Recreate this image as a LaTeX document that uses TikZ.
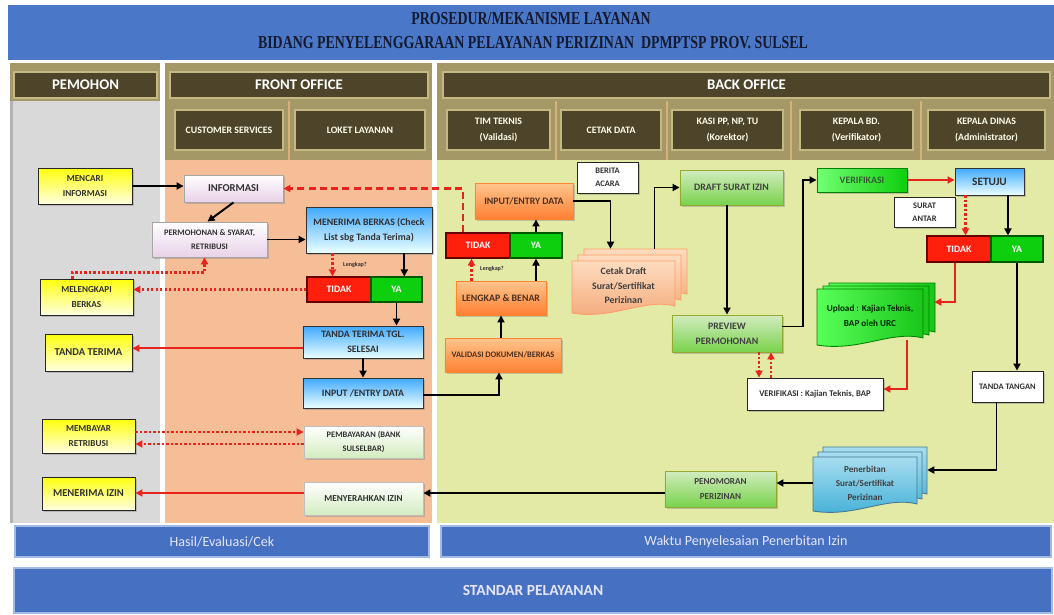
\documentclass[tikz,border=0pt]{standalone}
\usepackage{fontspec}
\setmainfont{Carlito}
\newfontfamily\titlefont{Liberation Serif}
\usetikzlibrary{arrows.meta,shadows,calc}

\definecolor{titleblue}{HTML}{4A77C7}
\definecolor{titletxt}{HTML}{141A30}
\definecolor{tanc}{HTML}{A49867}
\definecolor{tanlight}{HTML}{C4B983}
\definecolor{sepc}{HTML}{D6B27A}
\definecolor{darkbar}{HTML}{4D4429}
\definecolor{greycol}{HTML}{D9D9D9}
\definecolor{peachcol}{HTML}{F6BE97}
\definecolor{greencol}{HTML}{E3EAA5}
\definecolor{barblue}{HTML}{4670C1}
\definecolor{barframe}{HTML}{A3BAE4}
\definecolor{myred}{HTML}{E8231B}
\definecolor{txt}{HTML}{303030}
\definecolor{ortxt}{HTML}{4A3020}
\definecolor{docpeach1}{HTML}{FDDCC0}
\definecolor{docpeach2}{HTML}{F4A878}
\definecolor{docblue1}{HTML}{A8DDF0}
\definecolor{docblue2}{HTML}{3FAED6}

\newcommand\docsheet[5]{%
  \path[#5] ({#1},{#2}) -- ({#3},{#2}) -- ({#3},{#4-9})
    .. controls ({#3-0.3*(#3-#1)},{#4-17}) and ({#1+0.4*(#3-#1)},{#4+5}) .. ({#1},{#4-2}) -- cycle;}
\newcommand\multidoc[7]{%
  \docsheet{(#1+2*#5)}{(#2-2*#6)}{(#3+2*#5)}{(#4-2*#6)}{#7}
  \docsheet{(#1+#5)}{(#2-#6)}{(#3+#5)}{(#4-#6)}{#7}
  \docsheet{#1}{#2}{#3}{#4}{#7}}

\begin{document}
\begin{tikzpicture}[x=0.025cm,y=-0.025cm,
  sz/.style 2 args={minimum width=#1*0.7113pt,minimum height=#2*0.7113pt,inner sep=1pt},
  f6/.style={font=\bfseries\fontsize{6}{9.5}\selectfont},
  f62/.style={font=\bfseries\fontsize{6.2}{9.5}\selectfont},
  f65/.style={font=\bfseries\fontsize{6.5}{10.5}\selectfont},
  f7/.style={font=\bfseries\fontsize{7}{10.5}\selectfont},
  f75/.style={font=\bfseries\fontsize{7.5}{10.5}\selectfont},
  f8/.style={font=\bfseries\fontsize{8}{10}\selectfont},
  shadowed/.style={drop shadow={shadow xshift=1.6pt,shadow yshift=-1.6pt,opacity=0.4}},
  base/.style={align=center,text=txt,line width=0.6pt,shadowed},
  ybox/.style={base,draw=black!85,top color=yellow!95!white,bottom color=yellow!12},
  lavbox/.style={base,draw=black!35,top color=white,bottom color=violet!18},
  bluebox/.style={base,draw=black!80,top color=cyan!55!blue!75,bottom color=cyan!8},
  wgbox/.style={base,draw=black!25,top color=white,bottom color=green!40!olive!25},
  orbox/.style={base,text=ortxt,draw=orange!80!red!80,top color=orange!45,bottom color=orange!75!red!80!white},
  olbox/.style={base,draw=olive!70!green!80,top color=green!40!olive!25,bottom color=green!50!olive!70,text=black!75},
  vgbox/.style={base,draw=green!50!black,left color=green!55,right color=green!80!black!95,text=green!20!black!80},
  wbox/.style={base,draw=black!85,fill=white},
  redbox/.style={draw=red!40!black,line width=0.8pt,fill=red!85!orange!95,text=white,font=\bfseries\fontsize{7}{8}\selectfont},
  greenbox/.style={draw=green!35!black,line width=0.8pt,fill=green!80!black!95,text=white,font=\bfseries\fontsize{7}{8}\selectfont},
  tinylbl/.style={font=\bfseries\fontsize{4.3}{5}\selectfont,text=txt,inner sep=0pt},
  docnode/.style={align=center,inner sep=1pt},
  hdrbar/.style={fill=darkbar,draw=tanlight,line width=1.2pt,text=white,font=\bfseries\fontsize{10.5}{12}\selectfont,drop shadow={shadow xshift=1pt,shadow yshift=-1pt,opacity=0.35}},
  subhdr/.style={fill=darkbar,draw=tanlight,line width=1.5pt,text=white!92!yellow,align=center,font=\bfseries\fontsize{7}{11}\selectfont},
  bluebar/.style={fill=barblue,draw=barframe,line width=1.2pt,text=white!90!blue},
  blk/.style={draw=black,line width=1.4pt,-{Triangle[length=5pt,width=5pt]}},
  redsolid/.style={draw=myred,line width=1.6pt,-{Triangle[length=5pt,width=5pt]}},
  reddot/.style={draw=myred,line width=1.8pt,dash pattern=on 1.6pt off 1.6pt,-{Triangle[length=5pt,width=5pt]}},
  reddash/.style={draw=myred,line width=1.8pt,dash pattern=on 5pt off 3pt,-{Triangle[length=5pt,width=5pt]}}
]
\useasboundingbox (0,0) rectangle (1054,614);
\fill[white] (0,0) rectangle (1054,614);

% title band
\fill[titleblue] (8,5) rectangle (1054,60);
\node[font=\titlefont\bfseries\fontsize{13}{14}\selectfont,text=titletxt] (t1) at (531,19)
  {\scalebox{0.76}[1]{PROSEDUR/MEKANISME LAYANAN}};
\node[font=\titlefont\bfseries\fontsize{13}{14}\selectfont,text=titletxt] (t2) at (533,43)
  {\scalebox{0.76}[1]{BIDANG PENYELENGGARAAN PELAYANAN PERIZINAN\ \ DPMPTSP PROV. SULSEL}};

% column panels
\fill[tanc] (10,63) rectangle (160,101);
\fill[greycol] (10,101) rectangle (160,523);
\fill[black!30] (10,101) rectangle (13,523);
\fill[tanc] (165,63) rectangle (432,160);
\fill[peachcol] (165,160) rectangle (432,523);
\fill[tanc] (437,63) rectangle (1054,160);
\fill[greencol] (437,160) rectangle (1054,523);
\foreach \sx in {289,556,667,791,921} \draw[sepc,line width=1.2pt] (\sx,101) -- (\sx,160);

% header bars
\node[hdrbar,sz={143}{26}] (hpem) at (85.5,85) {PEMOHON};
\node[hdrbar,sz={258}{26}] (hfo) at (299,85) {FRONT OFFICE};
\node[hdrbar,sz={607}{26}] (hbo) at (746.5,85) {BACK OFFICE};
\node[subhdr,sz={108}{40}] (hcs) at (229,130) {CUSTOMER SERVICES};
\node[subhdr,sz={130}{40}] (hll) at (360,130) {LOKET LAYANAN};
\node[subhdr,sz={103}{40}] (htt) at (498.5,130) {TIM TEKNIS\\(Validasi)};
\node[subhdr,sz={100}{40}] (hcd) at (611,130) {CETAK DATA};
\node[subhdr,sz={111}{40}] (hks) at (727.5,130) {KASI PP, NP, TU\\(Korektor)};
\node[subhdr,sz={113}{40}] (hkb) at (856.5,130) {KEPALA BD.\\(Verifikator)};
\node[subhdr,sz={117}{40}] (hkd) at (986.5,130) {KEPALA DINAS\\(Administrator)};

% bottom bars
\node[bluebar,font=\fontsize{10}{12}\selectfont,sz={414}{31}] (hasil) at (222,541.5) {Hasil/Evaluasi/Cek};
\node[bluebar,font=\fontsize{10}{12}\selectfont,sz={610}{31}] (waktu) at (746,541.5) {Waktu Penyelesaian Penerbitan Izin};
\node[bluebar,font=\bfseries\fontsize{11}{12}\selectfont,sz={1038}{45}] (standar) at (533,590.5) {STANDAR PELAYANAN};

% PEMOHON
\node[ybox,f65,sz={94}{36}] (mencari) at (85,186) {MENCARI\\INFORMASI};
\node[ybox,f65,sz={93}{36}] (melengkapi) at (86.5,297) {MELENGKAPI\\BERKAS};
\node[ybox,f75,sz={87}{37}] (tandaterima) at (88.5,352.5) {TANDA TERIMA};
\node[ybox,f65,sz={93}{34}] (membayar) at (88.5,436) {MEMBAYAR\\RETRIBUSI};
\node[ybox,f75,sz={93}{33}] (menerimaizin) at (88.5,493.5) {MENERIMA IZIN};

% FRONT OFFICE
\node[lavbox,f75,sz={99}{27}] (informasi) at (233.5,188.5) {INFORMASI};
\node[lavbox,f6,sz={115}{35}] (permohonan) at (209.5,239.5) {PERMOHONAN \& SYARAT,\\RETRIBUSI};
\node[bluebox,f7,sz={126}{46}] (menerima) at (369,230) {MENERIMA BERKAS (Check\\List sbg Tanda Terima)};
\node[redbox,sz={64}{25}] (tidak1) at (339,289.5) {TIDAK\hspace{10pt}};
\node[greenbox,sz={51}{25}] (ya1) at (396.5,289.5) {YA\hspace{12pt}};
\node[tinylbl] (lk1) at (355,265) {Lengkap?};
\node[bluebox,f7,sz={120}{32}] (tandatgl) at (363,342) {TANDA TERIMA TGL.\\SELESAI};
\node[bluebox,f7,sz={120}{30}] (inputfo) at (363,393) {INPUT /ENTRY DATA};
\node[wgbox,f6,sz={119}{32}] (pembayaran) at (363.5,442) {PEMBAYARAN (BANK\\SULSELBAR)};
\node[wgbox,f65,sz={119}{33}] (menyerahkan) at (363.5,498.5) {MENYERAHKAN IZIN};

% BACK OFFICE
\node[orbox,f7,sz={98}{36}] (boinput) at (524,201) {INPUT/ENTRY DATA};
\node[wbox,f6,sz={61}{31}] (berita) at (607.5,177.5) {BERITA\\ACARA};
\node[redbox,sz={64}{25}] (tidak2) at (478,245.5) {TIDAK\hspace{10pt}};
\node[greenbox,sz={52}{25}] (ya2) at (536,245.5) {YA\hspace{12pt}};
\node[tinylbl] (lk2) at (492,269) {Lengkap?};
\node[orbox,f7,sz={90}{34}] (lengkap) at (501,298) {LENGKAP \& BENAR};
\node[orbox,f6,sz={116}{34}] (validasi) at (503,355) {VALIDASI DOKUMEN/BERKAS};

\multidoc{572}{261}{675}{315}{6}{6}{top color=docpeach1,bottom color=docpeach2,draw=orange!70!red!60,line width=0.6pt}
\node[docnode,font=\bfseries\fontsize{7}{10.3}\selectfont,text=black!75,sz={103}{50}] (cetak) at (623.5,286) {Cetak Draft\\Surat/Sertifikat\\Perizinan};

\node[olbox,f7,sz={103}{35}] (draft) at (731.5,187.5) {DRAFT SURAT IZIN};
\node[olbox,f7,sz={110}{37}] (preview) at (727,333.5) {PREVIEW\\PERMOHONAN};
\node[vgbox,f7,sz={90}{24}] (verif) at (862,180) {VERIFIKASI};
\node[bluebox,f8,sz={69}{27}] (setuju) at (989.5,181.5) {SETUJU};
\node[wbox,f6,sz={61}{30}] (suratantar) at (924.5,212) {SURAT\\ANTAR};
\node[redbox,sz={64}{26}] (tidak3) at (959,249) {TIDAK\hspace{10pt}};
\node[greenbox,sz={52}{26}] (ya3) at (1017,249) {YA\hspace{12pt}};

\multidoc{817}{289}{923}{347}{6}{3}{left color=green!65,right color=green!75!black!90,draw=green!50!black,line width=0.6pt}
\node[docnode,font=\bfseries\fontsize{6.5}{10.5}\selectfont,text=green!15!black,sz={106}{54}] (upload) at (870,316) {Upload : Kajian Teknis,\\BAP oleh URC};

\node[wbox,f62,sz={136}{32}] (verifkaj) at (815,394) {VERIFIKASI : Kajian Teknis, BAP};
\node[wbox,f6,sz={71}{31}] (tandatangan) at (1007.5,386.5) {TANDA TANGAN};

\multidoc{813}{457}{917}{513}{5}{5}{top color=docblue1,bottom color=docblue2,draw=cyan!50!black,line width=0.6pt}
\node[docnode,font=\bfseries\fontsize{6.5}{10}\selectfont,text=black!75,sz={104}{52}] (penerbitan) at (865,483) {Penerbitan\\Surat/Sertifikat\\Perizinan};
\node[olbox,f65,sz={111}{36}] (penomoran) at (720.5,489) {PENOMORAN\\PERIZINAN};

% ---------- connectors ----------
\draw[blk] (mencari.east) -- (mencari.east -| informasi.west);
\draw[blk] (informasi.south) -- ($(permohonan.north)+(-2,0)$);
\draw[blk] (permohonan.east) -- (permohonan.east -| menerima.west);
\coordinate (c4) at ($(ya1.north west)!0.65!(ya1.north east)$);
\draw[blk] (c4 |- menerima.south) -- (c4);
\coordinate (c5) at ($(tidak1.north west)!0.4!(tidak1.north east)$);
\draw[reddot] (c5 |- menerima.south) -- (c5);
\draw[reddot] (tidak1.west) -- (tidak1.west -| melengkapi.east);
\coordinate (c7) at ($(melengkapi.north west)!0.35!(melengkapi.north east)$);
\draw[reddot] (c7) -- ++(0,-6) -| ($(permohonan.south)+(-5,0)$);
\draw[blk] (ya1.south) -- (ya1.south |- tandatgl.north);
\coordinate (c9) at ($(tandatgl.north west)!0.69!(tandatgl.south west)$);
\draw[redsolid] (c9) -- (c9 -| tandaterima.east);
\draw[blk] (tandatgl.south) -- (inputfo.north);
\draw[blk] ($(inputfo.east)+(0,2)$) -| ($(validasi.south)+(-4,0)$);
\draw[blk] (lengkap.south |- validasi.north) -- (lengkap.south);
\draw[blk] (ya2.south |- lengkap.north) -- (ya2.south);
\coordinate (c14) at ($(tidak2.south west)!0.4!(tidak2.south east)$);
\draw[reddot] (c14 |- lengkap.north) -- (c14);
\draw[blk] (ya2.north) -- (ya2.north |- boinput.south);
\coordinate (c16) at ($(tidak2.north west)!0.27!(tidak2.north east)$);
\draw[reddash] (c16) |- (informasi.east);
\draw[blk] (boinput.east) -| ($(cetak.north)+(-13,-12)$);
\draw[blk] ($(cetak.north)+(31,-12)$) |- (draft.west);
\draw[blk] (preview.north |- draft.south) -- (preview.north);
\draw[blk] ($(preview.east)+(0,-7)$) -- ++(21,0) |- (verif.west);
\draw[redsolid] (verif.east) -- (verif.east -| setuju.west);
\coordinate (c22) at ($(tidak3.north west)!0.6!(tidak3.north east)$);
\draw[reddot] (c22 |- setuju.south) -- (c22);
\coordinate (c23) at ($(ya3.north west)!0.33!(ya3.north east)$);
\draw[blk] (c23 |- setuju.south) -- (c23);
\draw[redsolid] ($(tidak3.south)+(-4,0)$) |- ($(upload.east)+(11,-14)$);
\draw[redsolid] ($(upload.south)+(37,-3)$) |- ($(verifkaj.east)+(0,-5)$);
\coordinate (c26a) at ($(preview.south)+(32,0)$);
\draw[reddot] (c26a) -- (c26a |- verifkaj.north);
\coordinate (c26b) at ($(preview.south)+(44,0)$);
\draw[reddot] (c26b |- verifkaj.north) -- (c26b);
\draw[blk] (ya3.south) -- (ya3.south |- tandatangan.north);
\draw[blk] ($(tandatangan.south)+(-11,0)$) |- ($(penerbitan.east)+(10,-13)$);
\draw[blk] (penerbitan.west) -- (penerbitan.west -| penomoran.east);
\coordinate (c30) at ($(penomoran.west)+(0,4)$);
\draw[blk] (c30) -- (c30 -| menyerahkan.east);
\coordinate (c31) at ($(menyerahkan.west)+(0,-5.5)$);
\draw[redsolid] (c31) -- (c31 -| menerimaizin.east);
\coordinate (c32a) at ($(membayar.east)+(0,-4)$);
\draw[reddot] (c32a) -- (c32a -| pembayaran.west);
\coordinate (c32b) at ($(pembayaran.west)+(0,2)$);
\draw[reddot] (c32b) -- (c32b -| membayar.east);
\end{tikzpicture}
\end{document}
